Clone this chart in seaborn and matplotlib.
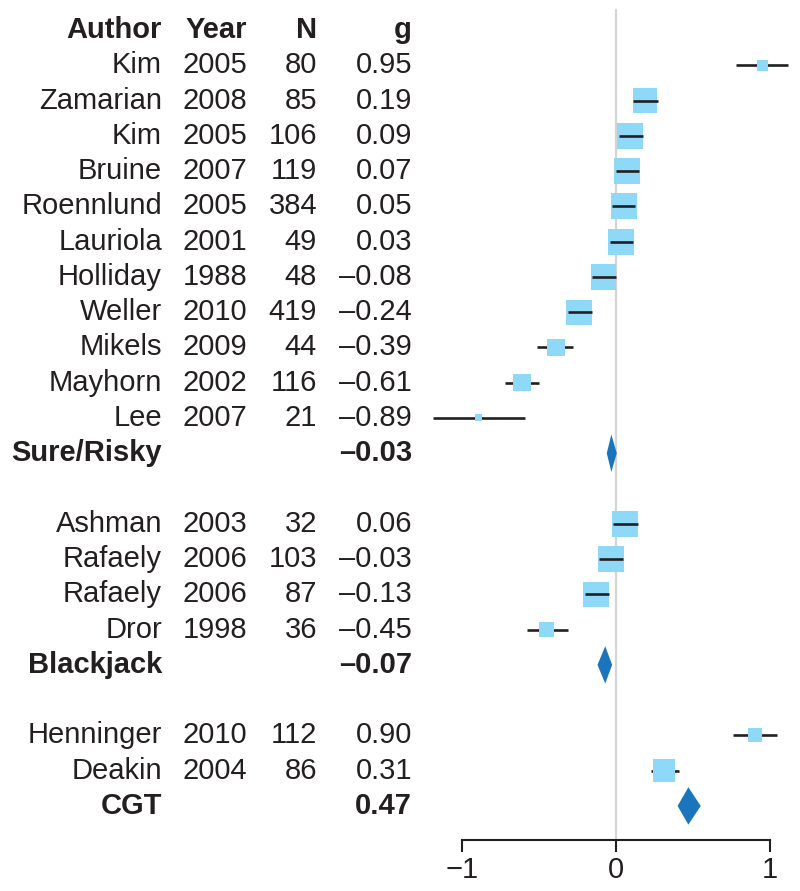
import numpy as np
import pandas as pd
import matplotlib
matplotlib.use("Agg")
import matplotlib.pyplot as plt
import seaborn as sns
from matplotlib.patches import Polygon
from matplotlib.transforms import blended_transform_factory

# ---------------- data ----------------
authors = ["Kim", "Zamarian", "Kim", "Bruine", "Roennlund", "Lauriola", "Holliday",
           "Weller", "Mikels", "Mayhorn", "Lee",
           "Ashman", "Rafaely", "Rafaely", "Dror",
           "Henninger", "Deakin"]
years = [2005, 2008, 2005, 2007, 2005, 2001, 1988, 2010, 2009, 2002, 2007,
         2003, 2006, 2006, 1998,
         2010, 2004]
ns = [80, 85, 106, 119, 384, 49, 48, 419, 44, 116, 21,
      32, 103, 87, 36,
      112, 86]
g = [0.95, 0.19, 0.09, 0.07, 0.05, 0.03, -0.08, -0.24, -0.39, -0.61, -0.89,
     0.06, -0.03, -0.13, -0.45,
     0.90, 0.31]
ci_lo = [0.78, 0.11, 0.02, 0.00, -0.025, -0.04, -0.155, -0.31, -0.51, -0.72, -1.19,
         -0.02, -0.11, -0.20, -0.58,
         0.76, 0.23]
ci_hi = [1.12, 0.27, 0.175, 0.15, 0.125, 0.11, 0.0, -0.155, -0.28, -0.50, -0.59,
         0.14, 0.045, -0.045, -0.31,
         1.045, 0.41]
weights = [0.42, 0.94, 1.0, 1.0, 1.0, 1.0, 0.97, 0.97, 0.66, 0.66, 0.27,
           1.0, 1.0, 0.97, 0.58,
           0.54, 0.86]
groups = ["Sure/Risky"] * 11 + ["Blackjack"] * 4 + ["CGT"] * 2

summary_names = ["Sure/Risky", "Blackjack", "CGT"]
summary_g = [-0.03, -0.07, 0.47]
summary_lo = [-0.06, -0.12, 0.40]
summary_hi = [0.005, -0.025, 0.55]

headers = ["Author", "Year", "N", "g"]
x_ticks = [-1, 0, 1]

# ---------------- layout of rows ----------------
rows = []
summary_rows = []
r = 1
for name in summary_names:
    for i, gr in enumerate(groups):
        if gr == name:
            rows.append(r)
            r += 1
    summary_rows.append(r)
    r += 2

df = pd.DataFrame({"author": authors, "year": years, "n": ns, "g": g,
                   "lo": ci_lo, "hi": ci_hi, "w": weights, "row": rows})

# ---------------- style ----------------
sns.set_theme(style="white")
plt.rcParams["font.family"] = ["Liberation Sans", "DejaVu Sans"]
FS = 21
INK = "#231F20"
SQ = "#8ED8F8"
DIA = "#1B75BC"

W, H = 800, 891
fig = plt.figure(figsize=(W / 100, H / 100), dpi=100)
px0, ppu = 616.0, 154.0        # pixel of x=0 and pixels per unit
row0, rstep = 30.0, 35.27      # pixel of header row and row spacing
ax_left, ax_bottom_px = 420, 840
ax = fig.add_axes([ax_left / W, (H - ax_bottom_px) / H, (W - ax_left) / W, ax_bottom_px / H])
ax.set_xlim((ax_left - px0) / ppu, (W - px0) / ppu)
ax.set_ylim((ax_bottom_px - row0) / rstep, (0 - row0) / rstep)

# zero line
ax.axvline(0, ymin=0, ymax=(ax_bottom_px - 10) / ax_bottom_px, color="#D4D4D4", lw=1.6, zorder=0)

# square side in pixels
max_side_px = 26.0
side_px = np.array(weights) * max_side_px
sizes = (side_px * 0.72) ** 2

# CI lines: behind squares when CI extends past square, on top otherwise
ci_px = (np.array(ci_hi) - np.array(ci_lo)) * ppu
on_top = ci_px <= side_px + 2
ax.hlines(df["row"][~on_top], df["lo"][~on_top], df["hi"][~on_top], color=INK, lw=1.9, zorder=1)
sns.scatterplot(data=df, x="g", y="row", marker="s", s=sizes, color=SQ,
                linewidth=0, ax=ax, legend=False, zorder=2)
ax.hlines(df["row"][on_top], df["lo"][on_top], df["hi"][on_top], color=INK, lw=1.9, zorder=3)

# summary diamonds
for yr, est, lo, hi in zip(summary_rows, summary_g, summary_lo, summary_hi):
    poly = Polygon([(lo, yr), (est, yr - 0.53), (hi, yr), (est, yr + 0.53)],
                   closed=True, facecolor=DIA, edgecolor="none", zorder=4)
    ax.add_patch(poly)

# axis styling
ax.set_xlabel("")
ax.set_ylabel("")
ax.set_yticks([])
ax.set_xticks(x_ticks)
ax.set_xticklabels(["\u2212" + str(abs(t)) if t < 0 else str(t) for t in x_ticks], fontsize=FS, color=INK)
for s in ["top", "right", "left"]:
    ax.spines[s].set_visible(False)
ax.spines["bottom"].set_bounds(min(x_ticks), max(x_ticks))
ax.spines["bottom"].set_color(INK)
ax.spines["bottom"].set_linewidth(1.5)
ax.tick_params(axis="x", direction="out", length=8.5, width=1.5, color=INK, pad=3, bottom=True)
ax.patch.set_alpha(0)

# ---------------- table text ----------------
tr = blended_transform_factory(fig.transFigure, ax.transData)
col_x = [162 / W, 247 / W, 317 / W, 412 / W]

def fmt(v):
    s = f"{v:.2f}"
    return s.replace("-", "\u2013")

for hx, h in zip(col_x, headers):
    ax.text(hx, 0, h, transform=tr, ha="right", va="center", fontsize=FS,
            fontweight="bold", color=INK, clip_on=False)

for _, rw in df.iterrows():
    vals = [rw["author"], str(int(rw["year"])), str(int(rw["n"])), fmt(rw["g"])]
    for cx, v in zip(col_x, vals):
        ax.text(cx, rw["row"], v, transform=tr, ha="right", va="center",
                fontsize=FS, color=INK, clip_on=False)

for yr, name, est in zip(summary_rows, summary_names, summary_g):
    ax.text(col_x[0], yr, name, transform=tr, ha="right", va="center",
            fontsize=FS, fontweight="bold", color=INK, clip_on=False)
    ax.text(col_x[3], yr, fmt(est), transform=tr, ha="right", va="center",
            fontsize=FS, fontweight="bold", color=INK, clip_on=False)

fig.savefig("out.png", dpi=100, facecolor="white")
